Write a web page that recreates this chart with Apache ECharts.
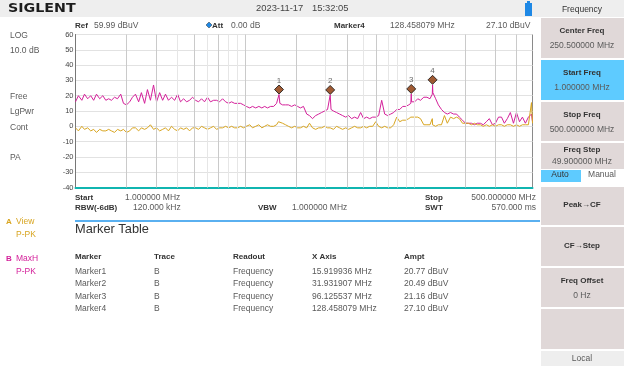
<!DOCTYPE html>
<html><head><meta charset="utf-8">
<style>html,body{margin:0;padding:0;background:#fff}#c{width:624px;height:368px}</style>
<script src="https://cdn.jsdelivr.net/npm/echarts@6/dist/echarts.min.js"></script>
</head><body><div id="c"></div>
<script>
const freqMHz = [
1.00,1.04,1.09,1.13,1.18,1.23,1.28,1.33,1.39,1.45,
1.51,1.57,1.63,1.70,1.77,1.85,1.92,2.00,2.09,2.17,
2.26,2.36,2.45,2.56,2.66,2.77,2.89,3.01,3.14,3.27,
3.40,3.54,3.69,3.85,4.01,4.17,4.35,4.53,4.72,4.91,
5.12,5.33,5.55,5.78,6.02,6.27,6.54,6.81,7.09,7.39,
7.70,8.02,8.35,8.70,9.06,9.44,9.83,10.2,10.7,11.1,
11.6,12.1,12.6,13.1,13.6,14.2,14.8,15.4,15.8,15.92,
16.1,16.7,17.4,18.1,18.9,19.7,20.5,21.3,22.2,23.2,
24.1,25.1,26.2,27.3,28.4,29.6,30.8,31.6,31.93,32.3,
33.4,34.8,36.3,37.8,39.4,41.0,42.7,44.5,46.4,48.3,
50.3,52.4,54.6,56.9,59.3,61.7,64.3,67.0,69.8,72.7,
75.7,78.9,82.2,85.6,89.2,92.9,95.6,96.13,96.6,100.8,
105,109,114,119,124,128,128.46,129,134,139,
145,151,157,164,171,178,185,193,201,209,
218,227,236,246,256,267,278,290,302,315,
328,341,355,370,386,402,419,436,454,473,
493,500];
const traceB = [
16,20,17,21,18,20,17,21,18,20,
17,18,17,19,18,21,15,14,16,19,
21,16,22,15,24,17,27,16,22,17,
21,17,19,17,21,16,18,16,17,19,
17,16,18,16,19,16,17,17,16,18,
16,15,16,15,15,15,14,13,12,13,
12,13,12,13,12,13,13,15,15,20.77,
15,14,14,14,13,14,13,12,13,8,
7,5,7,8,9,10,11,11,20.49,11,
10,9,8,7,6,7,5,6,5,9,
5,6,5,6,6,7,17,8,7,8,
9,11,11,13,13,14,15,21.16,16,16,
18,17,19,19,18,21,27.1,22,18,14,
11,9,8,9,8,8,6,4,2,2,
2,1,2,2,1,3,5,1,2,6,
6,2,5,9,2,9,3,6,2,6,
8,3];
const traceA = [
-1,-3,0,-2,-1,-3,-2,-4,-2,-3,
-3,-2,-3,-4,-2,-3,-2,-4,-3,-1,
-1,-3,-1,-2,-1,1,-2,-1,-3,-2,
-1,-3,0,-2,-3,-1,-2,-1,-3,-1,
-1,-2,0,-1,-2,-1,0,-2,-1,-1,
0,-1,0,-1,-1,0,-1,0,1,-1,
0,1,-1,0,1,0,0,1,3,3,
3,2,1,0,-1,0,-1,-1,0,-1,
2,-1,-2,-1,-1,0,-1,0,-1,-1,
-2,0,-1,-2,-1,-2,-1,0,-1,-1,
0,-1,0,0,3,0,-1,0,-1,-1,
1,6,3,4,4,5,6,7,7,6,
6,5,1,1,1,5,1,1,0,1,
1,7,2,6,5,6,5,2,2,2,
1,2,1,1,0,1,0,1,0,1,
1,0,1,1,0,1,0,1,1,1,
15.5,2];
const markerFreq = [15.92,31.93,96.13,128.46];
const markerAmpt = [20.77,20.49,21.16,27.10];
const gridStrong = [2,3,5,7,10,20,40,60,200,300,400];
const gridLight = [4,6,8,9,30,50,70,80,90,100];
const yTicks = {min:-40,max:60,step:10};
const tableHeader = ['Marker','Trace','Readout','X Axis','Ampt'];
const tableMarker = ['Marker1','Marker2','Marker3','Marker4'];
const tableTrace = ['B','B','B','B'];
const tableReadout = ['Frequency','Frequency','Frequency','Frequency'];
const tableX = ['15.919936 MHz','31.931907 MHz','96.125537 MHz','128.458079 MHz'];
const tableAmpt = ['20.77 dBuV','20.49 dBuV','21.16 dBuV','27.10 dBuV'];
const softKeys = [
 {t:18,h:40,a:'Center Freq',b:'250.500000 MHz',c:'#e0d8d8'},
 {t:60,h:40,a:'Start Freq',b:'1.000000 MHz',c:'#5ecbff'},
 {t:102,h:39,a:'Stop Freq',b:'500.000000 MHz',c:'#e0d8d8'},
 {t:143,h:26,a:'Freq Step',b:'49.900000 MHz',c:'#e0d8d8'},
 {t:187,h:38,a:'Peak→CF',c:'#e0d8d8'},
 {t:227,h:39,a:'CF→Step',c:'#e0d8d8'},
 {t:268,h:39,a:'Freq Offset',b:'0 Hz',c:'#e0d8d8'},
 {t:309,h:40,c:'#e0d8d8'}
];

const FONT='"Liberation Sans",Arial,sans-serif';
const g=[];
const rect=(x,y,w,h,fill)=>g.push({type:'rect',silent:true,shape:{x,y,width:w,height:h},style:{fill}});
const text=(s,x,y,o={})=>g.push({type:'text',silent:true,x,y,style:{text:s,font:(o.bold?'bold ':'')+(o.size||(o.bold?8:8.5))+'px '+FONT,fill:o.color||'#5a5a5a',textAlign:o.align||'left',textVerticalAlign:'middle'}});

rect(0,0,540,17,'#eeeeee');
rect(540,0,84,17,'#eeeeee');
g.push({type:'text',silent:true,x:8,y:8.5,scaleX:1.14,style:{text:'SIGLENT',font:'bold 12.5px "DejaVu Sans",sans-serif',fill:'#1c1c1c',textVerticalAlign:'middle'}});
text('2023-11-17',256,8,{size:9.4,color:'#444'});
text('15:32:05',312,8,{size:9.4,color:'#444'});
rect(525,3,7,13,'#1e88e5');
rect(527,1,3,2,'#1e88e5');

text('Ref',75,26,{bold:true,color:'#333'});
text('59.99 dBuV',94,26);
g.push({type:'polygon',silent:true,shape:{points:[[209,22],[212,25],[209,28],[206,25]]},style:{fill:'#1e88e5',stroke:'#333',lineWidth:0.5}});
text('Att',212,26,{bold:true,color:'#333'});
text('0.00 dB',231,26);
text('Marker4',334,26,{bold:true,color:'#333'});
text('128.458079 MHz',390,26);
text('27.10 dBuV',486,26);

[['LOG',36],['10.0 dB',51],['Free',97],['LgPwr',112],['Cont',128],['PA',158]].forEach(r=>text(r[0],10,r[1]));

text('Start',75,198,{bold:true,color:'#333'});
text('1.000000 MHz',125,198);
text('RBW(-6dB)',75,208,{bold:true,color:'#333'});
text('120.000 kHz',133,208);
text('VBW',258,208,{bold:true,color:'#333'});
text('1.000000 MHz',292,208);
text('Stop',425,198,{bold:true,color:'#333'});
text('500.000000 MHz',536,198,{align:'right'});
text('SWT',425,208,{bold:true,color:'#333'});
text('570.000 ms',536,208,{align:'right'});
rect(75,220,465,2,'#5ab0f0');
text('Marker Table',75,229,{size:12.8,color:'#333'});

text('A',6,222,{bold:true,color:'#d8a520'});
text('View',16,222,{color:'#d8a520'});
text('P-PK',16,235,{color:'#d8a520'});
text('B',6,259,{bold:true,color:'#d4209a'});
text('MaxH',16,259,{color:'#d4209a'});
text('P-PK',16,272,{color:'#d4209a'});

const cols=[75,154,233,312,404];
tableHeader.forEach((h,i)=>text(h,cols[i],257,{bold:true,color:'#333'}));
const rowY=[272,284,297,309];
[tableMarker,tableTrace,tableReadout,tableX,tableAmpt].forEach((col,i)=>col.forEach((s,j)=>text(s,cols[i],rowY[j])));

softKeys.forEach(k=>{
  rect(541,k.t,83,k.h,k.c);
  const cy=k.t+k.h/2;
  if(k.a&&k.b){
    text(k.a,582,k.h<30?k.t+7:cy-7,{bold:true,align:'center',color:'#333'});
    text(k.b,582,k.h<30?k.t+19:cy+8,{align:'center'});
  } else if(k.a){
    text(k.a,582,cy-1,{bold:true,align:'center',color:'#333'});
  }
});
text('Frequency',582,10,{align:'center',color:'#333'});
rect(541,170,40,12,'#5ecbff');
rect(581,170,43,12,'#ffffff');
text('Auto',560,175,{align:'center',color:'#333'});
text('Manual',602,175,{align:'center'});
rect(541,351,83,15,'#eeeeee');
text('Local',582,359,{align:'center'});

const pair=(ys)=>freqMHz.map((f,i)=>[f,ys[i]]);
const vline=(vals,color)=>({silent:true,symbol:'none',animation:false,label:{show:false},lineStyle:{color,width:1,type:'solid',opacity:1},data:vals.map(v=>({xAxis:v}))});

const chart=echarts.init(document.getElementById('c'),null,{renderer:'canvas'});
chart.setOption({
  animation:false,
  backgroundColor:'#ffffff',
  textStyle:{fontFamily:FONT},
  graphic:{elements:g},
  grid:{left:75.5,top:34.5,width:457,height:153,show:true,borderColor:'#8a8a8a',borderWidth:1,backgroundColor:'transparent'},
  xAxis:{type:'log',logBase:10,min:1,max:500,axisLabel:{show:false},axisTick:{show:false},minorTick:{show:false},splitLine:{show:false},minorSplitLine:{show:false},
    axisLine:{show:true,onZero:false,lineStyle:{color:'#10b5b0',width:2}}},
  yAxis:{type:'value',min:yTicks.min,max:yTicks.max,interval:yTicks.step,
    axisLine:{show:true,onZero:false,lineStyle:{color:'#777',width:1}},axisTick:{show:false},
    axisLabel:{fontSize:7.5,color:'#444',margin:2,fontFamily:FONT},
    splitLine:{lineStyle:{color:'#e2e2e2',width:1}}},
  series:[
    {name:'grid strong',type:'line',data:[],markLine:vline(gridStrong,'#cacaca')},
    {name:'grid light',type:'line',data:[],markLine:vline(gridLight,'#e6e6e6')},
    {name:'Trace B',type:'line',data:pair(traceB),showSymbol:false,symbol:'none',lineStyle:{color:'#d4209a',width:1},z:3},
    {name:'Trace A',type:'line',data:pair(traceA),showSymbol:false,symbol:'none',lineStyle:{color:'#d8a520',width:1},z:4},
    {name:'Markers',type:'scatter',data:markerFreq.map((f,i)=>[f,markerAmpt[i]]),symbol:'diamond',symbolSize:9,symbolOffset:[0,-5],z:6,
      itemStyle:{color:'#8a3200',borderColor:'#111',borderWidth:1},
      label:{show:true,position:'top',distance:0,fontSize:8,color:'#444',formatter:p=>String(p.dataIndex+1)}}
  ]
});
</script></body></html>
